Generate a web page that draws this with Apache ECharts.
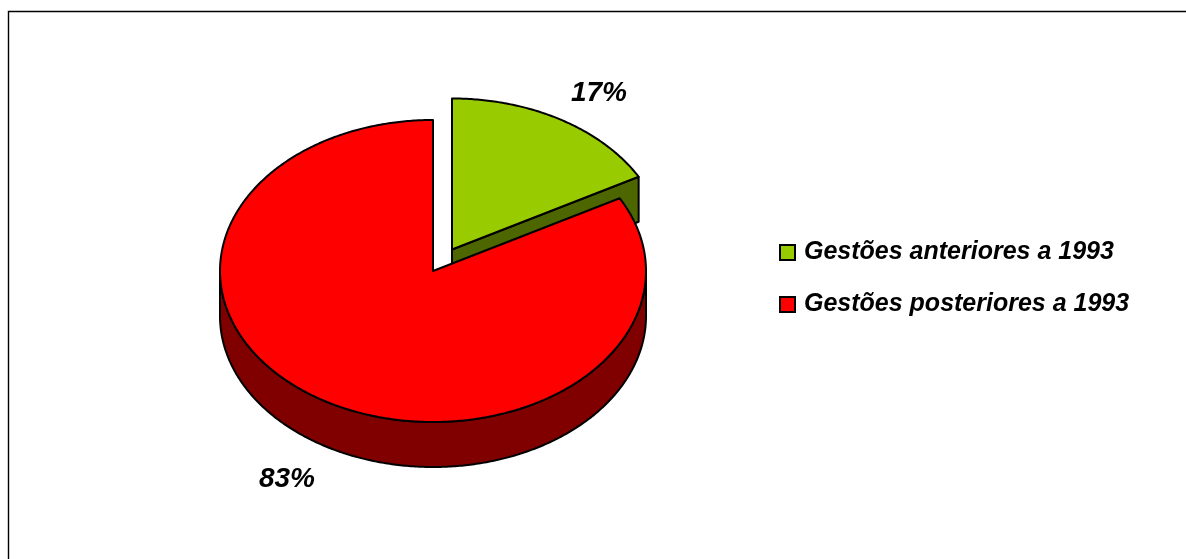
<!DOCTYPE html>
<html><head><meta charset="utf-8">
<style>html,body{margin:0;padding:0;background:#fff;overflow:hidden}#c{width:1186px;height:559px}</style>
<script src="https://cdn.jsdelivr.net/npm/echarts@6/dist/echarts.min.js"></script>
</head><body><div id="c"></div>
<script>
const categories = ['Gestões anteriores a 1993', 'Gestões posteriores a 1993'];
const values = [17, 83];
const colors = ['#99cc00', '#ff0000'];
const wallColors = ['#4d6600', '#800000'];
const centers = [[452, 249.5], [433, 271]];
const labelPos = [[599, 93], [287, 479]];
const RX = 213, RY = 151, DEPTH = 45;
const FONT = 'Liberation Sans, Arial, sans-serif';
const total = values.reduce((a, b) => a + b, 0);
const pt = (c, t, dy) => [c[0] + RX * Math.sin(t), c[1] - RY * Math.cos(t) + (dy || 0)];
function arc(c, a, b, dy) {
  const n = Math.max(2, Math.ceil(Math.abs(b - a) / 0.01)), out = [];
  for (let i = 0; i <= n; i++) out.push(pt(c, a + (b - a) * i / n, dy));
  return out;
}
const edge = { stroke: '#000', lineWidth: 2, lineJoin: 'round' };
function render(idx) {
  return function (params, api) {
    const value = api.value(0), start = api.value(1);
    const a = start / total * 2 * Math.PI, b = (start + value) / total * 2 * Math.PI;
    const c = centers[idx], kids = [];
    const wall = pts => kids.push({ type: 'polygon', shape: { points: pts }, style: Object.assign({ fill: wallColors[idx] }, edge) });
    // cut faces looking toward the viewer
    if (Math.sin(b) > 0 && Math.cos(b) > -1) {
      const p = pt(c, b);
      wall([c, p, [p[0], p[1] + DEPTH], [c[0], c[1] + DEPTH]]);
    }
    // outer rim: front half of the ellipse only
    const ra = Math.max(a, Math.PI / 2), rb = Math.min(b, 3 * Math.PI / 2);
    if (rb > ra) wall(arc(c, ra, rb, 0).concat(arc(c, rb, ra, DEPTH)));
    kids.push({ type: 'polygon', shape: { points: [c].concat(arc(c, a, b, 0)) },
      style: Object.assign({ fill: colors[idx] }, edge) });
    kids.push({ type: 'text', style: { text: Math.round(value / total * 100) + '%',
      x: labelPos[idx][0], y: labelPos[idx][1], align: 'center', verticalAlign: 'middle',
      font: 'italic bold 28px ' + FONT, fill: '#000' } });
    return { type: 'group', children: kids };
  };
}
let cum = 0;
const series = categories.map((name, i) => {
  const d = [[values[i], cum]]; cum += values[i];
  return { type: 'custom', name, coordinateSystem: 'none', renderItem: render(i), data: d,
    dimensions: ['value', 'start'], encode: { value: 0 }, silent: true, itemStyle: { color: colors[i] }, z: 2 + i };
});
const chart = echarts.init(document.getElementById('c'), null, { renderer: 'canvas' });
chart.setOption({
  animation: false,
  backgroundColor: '#fff',
  legend: {
    orient: 'vertical', left: 776, top: 240, padding: [0, 0, 0, 3],
    itemWidth: 15, itemHeight: 15, itemGap: 27, icon: 'rect', selectedMode: false,
    data: categories.map((name, i) => ({ name, itemStyle: { color: colors[i], borderColor: '#000', borderWidth: 2 } })),
    textStyle: { fontFamily: FONT, fontStyle: 'italic', fontWeight: 'bold', fontSize: 25, color: '#000', padding: [0, 0, 0, 4] }
  },
  graphic: [{ type: 'polyline', shape: { points: [[8.5, 559], [8.5, 11.5], [1186, 11.5]] }, style: { stroke: '#000', lineWidth: 1.4, fill: null }, silent: true }],
  series
});
</script></body></html>
